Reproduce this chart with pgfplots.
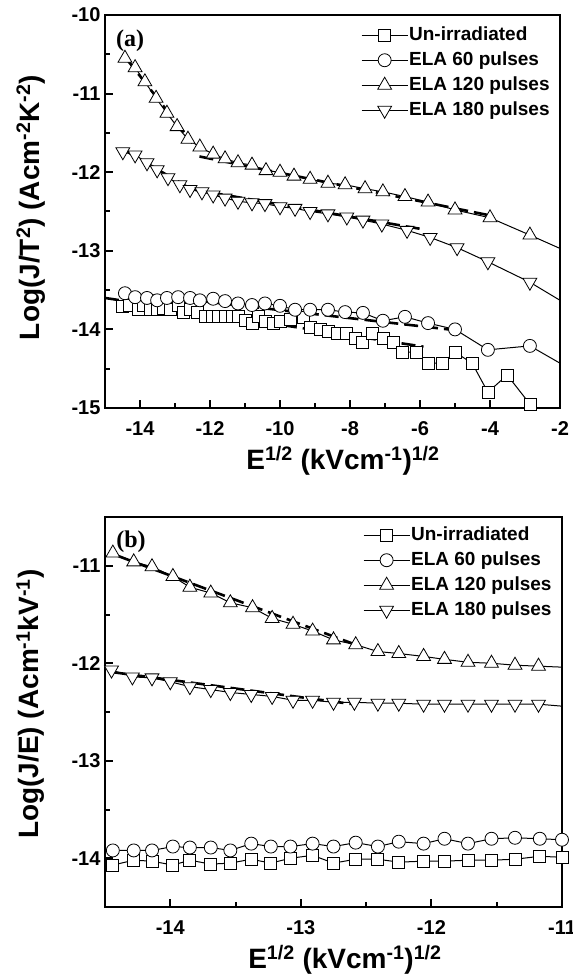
\documentclass[border=0pt]{standalone}
\usepackage{pgfplots}
\pgfplotsset{compat=1.18}
\usepackage{fontspec}
\setmainfont{Liberation Sans}
\newfontfamily\serifbf{Liberation Serif}
\pgfplotsset{
  panel/.style={
    scale only axis,
    axis line style={line width=2.4pt},
    tick style={line width=2pt, black},
    major tick length=8pt, minor tick length=5pt,
    tick align=inside,
    xtick pos=left, ytick pos=left,
    minor x tick num=1, minor y tick num=1,
    ticklabel style={font=\fontsize{20}{20}\selectfont\bfseries},
    xticklabel style={yshift=-10pt},
    yticklabel style={xshift=-1pt},
    /pgf/number format/assume math mode=true,
    legend style={draw=none, fill=none, font=\fontsize{19}{19}\selectfont\bfseries,
      anchor=north east, row sep=5pt, inner sep=1pt,
      nodes={inner sep=1pt, text height=14pt, text depth=4pt}},
    legend cell align=left,
    legend image code/.code={\draw[mark repeat=2,mark phase=2] plot coordinates {(0pt,0pt) (23pt,0pt) (46pt,0pt)};},
    label style={font=\fontsize{28}{30}\selectfont\bfseries},
  },
  sq/.style={black, line width=1pt, mark=square*, mark size=6pt, mark options={fill=white, line width=0.8pt}},
  ci/.style={black, line width=1pt, mark=*, mark size=6.5pt, mark options={fill=white, line width=0.8pt}},
  tu/.style={black, line width=1pt, mark=triangle*, mark size=8pt, mark options={fill=white, line width=0.8pt}},
  td/.style={black, line width=1pt, mark=triangle*, mark size=8pt, mark options={fill=white, line width=0.8pt, rotate=180}},
  fit/.style={black, line width=2.6pt, dash pattern=on 14pt off 6pt, no marks, forget plot},
  tail/.style={black, line width=1pt, no marks, forget plot},
}
\begin{document}
\begin{tikzpicture}[x=1pt,y=1pt]
\path[use as bounding box] (0,0) rectangle (573,975);
% ---------------- panel (a)
\begin{axis}[panel, at={(105pt,567pt)}, anchor=south west,
  width=455pt, height=393pt,
  xmin=-15, xmax=-2, ymin=-15, ymax=-10,
  xtick={-14,-12,...,-2}, ytick={-15,-14,...,-10},
  xlabel={E\textsuperscript{1/2} (kVcm\textsuperscript{-1})\textsuperscript{1/2}},
  ylabel={Log(J/T\textsuperscript{2}) (Acm\textsuperscript{-2}K\textsuperscript{-2})},
  xlabel style={at={(axis description cs:0.523,-0.135)}, anchor=center},
  ylabel style={at={(axis description cs:-0.163,0.51)}, anchor=center},
  legend style={at={(0.982,0.977)}},
]
\addplot[sq] coordinates {
(-14.49,-13.71) (-14.29,-13.69) (-14.06,-13.74) (-13.91,-13.70) (-13.71,-13.75)
(-13.51,-13.75) (-13.34,-13.73) (-13.14,-13.75) (-12.91,-13.70) (-12.77,-13.79)
(-12.57,-13.75) (-12.37,-13.79) (-12.14,-13.84) (-11.94,-13.84) (-11.77,-13.84)
(-11.57,-13.84) (-11.37,-13.84) (-11.20,-13.84) (-11.00,-13.88) (-10.80,-13.92)
(-10.63,-13.83) (-10.43,-13.90) (-10.20,-13.92) (-10.00,-13.90) (-9.71,-13.87)
(-9.34,-13.85) (-9.14,-13.98) (-8.86,-14.00) (-8.63,-14.03) (-8.37,-14.05)
(-8.09,-14.05) (-7.86,-14.11) (-7.66,-14.16) (-7.37,-14.05) (-7.06,-14.11)
(-6.77,-14.17) (-6.49,-14.29) (-6.09,-14.29) (-5.77,-14.43) (-5.37,-14.43)
(-5.00,-14.29) (-4.51,-14.43) (-4.06,-14.80) (-3.51,-14.58) (-2.86,-14.95)};
\addlegendentry{Un-irradiated}
\addplot[ci] coordinates {
(-14.43,-13.54) (-14.14,-13.59) (-13.80,-13.60) (-13.51,-13.63) (-13.23,-13.60)
(-12.91,-13.59) (-12.57,-13.60) (-12.29,-13.63) (-11.91,-13.61) (-11.57,-13.64)
(-11.20,-13.67) (-10.80,-13.69) (-10.43,-13.67) (-10.00,-13.70) (-9.57,-13.75)
(-9.14,-13.75) (-8.63,-13.75) (-8.14,-13.78) (-7.63,-13.79) (-7.06,-13.89)
(-6.43,-13.84) (-5.77,-13.92) (-5.00,-14.00) (-4.06,-14.26) (-2.86,-14.21)};
\addlegendentry{ELA 60 pulses}
\addplot[tu] coordinates {
(-14.43,-10.55) (-14.14,-10.67) (-13.86,-10.85) (-13.54,-11.06) (-13.23,-11.25)
(-12.94,-11.42) (-12.63,-11.58) (-12.29,-11.68) (-11.91,-11.77) (-11.57,-11.83)
(-11.20,-11.88) (-10.80,-11.91) (-10.40,-11.98) (-10.00,-12.00) (-9.60,-12.05)
(-9.14,-12.09) (-8.63,-12.14) (-8.14,-12.16) (-7.57,-12.21) (-7.06,-12.25)
(-6.43,-12.31) (-5.77,-12.38) (-5.00,-12.48) (-4.00,-12.58) (-2.86,-12.80)};
\addlegendentry{ELA 120 pulses}
\addplot[td] coordinates {
(-14.49,-11.74) (-14.14,-11.78) (-13.80,-11.88) (-13.51,-11.97) (-13.20,-12.07)
(-12.86,-12.16) (-12.57,-12.22) (-12.23,-12.25) (-11.91,-12.29) (-11.57,-12.33)
(-11.20,-12.37) (-10.80,-12.39) (-10.43,-12.40) (-10.00,-12.44) (-9.57,-12.46)
(-9.14,-12.50) (-8.63,-12.53) (-8.09,-12.57) (-7.63,-12.61) (-7.09,-12.66)
(-6.37,-12.74) (-5.71,-12.83) (-4.94,-12.96) (-4.06,-13.14) (-2.86,-13.40)};
\addlegendentry{ELA 180 pulses}
\addplot[tail] coordinates {(-2.86,-14.21) (-2,-14.43)};
\addplot[tail] coordinates {(-2.86,-12.80) (-2,-12.97)};
\addplot[tail] coordinates {(-2.86,-13.40) (-2,-13.63)};
\addplot[fit] coordinates {(-14.4,-10.55) (-12.5,-11.63)};
\addplot[fit] coordinates {(-12.3,-11.80) (-4.0,-12.55)};
\addplot[fit] coordinates {(-14.4,-11.73) (-12.6,-12.20)};
\addplot[fit] coordinates {(-12.6,-12.21) (-6.0,-12.72)};
\addplot[fit] coordinates {(-14.4,-13.53) (-4.8,-14.02)};
\addplot[fit] coordinates {(-15.0,-13.60) (-5.9,-14.22)};
\node[font=\fontsize{24}{24}\selectfont\serifbf\bfseries] at (rel axis cs:0.055,0.934) {(a)};
\end{axis}
% ---------------- panel (b)
\begin{axis}[panel, at={(105pt,68pt)}, anchor=south west,
  width=457pt, height=390pt,
  xmin=-14.5, xmax=-11, ymin=-14.5, ymax=-10.5,
  xtick={-14,-13,-12,-11}, ytick={-14,-13,-12,-11},
  xlabel={E\textsuperscript{1/2} (kVcm\textsuperscript{-1})\textsuperscript{1/2}},
  ylabel={Log(J/E) (Acm\textsuperscript{-1}kV\textsuperscript{-1})},
  xlabel style={at={(axis description cs:0.525,-0.135)}, anchor=center},
  ylabel style={at={(axis description cs:-0.163,0.52)}, anchor=center},
  legend style={at={(0.982,0.982)}},
]
\addplot[sq] coordinates {
(-14.44,-14.07) (-14.28,-14.02) (-14.14,-14.03) (-13.98,-14.07) (-13.85,-14.02)
(-13.69,-14.06) (-13.54,-14.05) (-13.38,-14.01) (-13.23,-14.05) (-13.08,-14.00)
(-12.91,-13.97) (-12.75,-14.05) (-12.58,-14.01) (-12.41,-14.01) (-12.25,-14.04)
(-12.06,-14.03) (-11.90,-14.03) (-11.72,-14.02) (-11.54,-14.02) (-11.36,-14.01)
(-11.17,-13.98) (-11.00,-13.99)};
\addlegendentry{Un-irradiated}
\addplot[ci] coordinates {
(-14.44,-13.92) (-14.28,-13.92) (-14.14,-13.92) (-13.98,-13.88) (-13.85,-13.89)
(-13.69,-13.89) (-13.54,-13.92) (-13.38,-13.85) (-13.23,-13.88) (-13.08,-13.88)
(-12.91,-13.85) (-12.75,-13.88) (-12.58,-13.84) (-12.41,-13.88) (-12.25,-13.83)
(-12.06,-13.85) (-11.90,-13.80) (-11.72,-13.85) (-11.54,-13.80) (-11.36,-13.79)
(-11.17,-13.80) (-11.00,-13.81)};
\addlegendentry{ELA 60 pulses}
\addplot[tu] coordinates {
(-14.44,-10.87) (-14.28,-10.96) (-14.14,-11.01) (-13.98,-11.11) (-13.85,-11.22)
(-13.69,-11.28) (-13.54,-11.38) (-13.37,-11.43) (-13.22,-11.54) (-13.06,-11.60)
(-12.91,-11.67) (-12.75,-11.76) (-12.58,-11.81) (-12.41,-11.88) (-12.25,-11.90)
(-12.06,-11.93) (-11.90,-11.96) (-11.72,-11.99) (-11.54,-12.00) (-11.36,-12.02)
(-11.18,-12.03)};
\addlegendentry{ELA 120 pulses}
\addplot[td] coordinates {
(-14.45,-12.07) (-14.29,-12.14) (-14.14,-12.15) (-14.00,-12.19) (-13.85,-12.24)
(-13.69,-12.27) (-13.54,-12.30) (-13.38,-12.32) (-13.22,-12.34) (-13.06,-12.38)
(-12.91,-12.38) (-12.75,-12.40) (-12.59,-12.40) (-12.41,-12.41) (-12.25,-12.41)
(-12.06,-12.42) (-11.90,-12.42) (-11.72,-12.42) (-11.54,-12.42) (-11.36,-12.42)
(-11.18,-12.42)};
\addlegendentry{ELA 180 pulses}
\addplot[tail] coordinates {(-11.18,-12.03) (-11,-12.04)};
\addplot[tail] coordinates {(-11.18,-12.42) (-11,-12.44)};
\addplot[fit] coordinates {(-14.4,-10.90) (-12.6,-11.80)};
\addplot[fit] coordinates {(-14.45,-12.09) (-12.6,-12.42)};
\node[font=\fontsize{24}{24}\selectfont\serifbf\bfseries] at (rel axis cs:0.057,0.936) {(b)};
\end{axis}
\end{tikzpicture}
\end{document}
